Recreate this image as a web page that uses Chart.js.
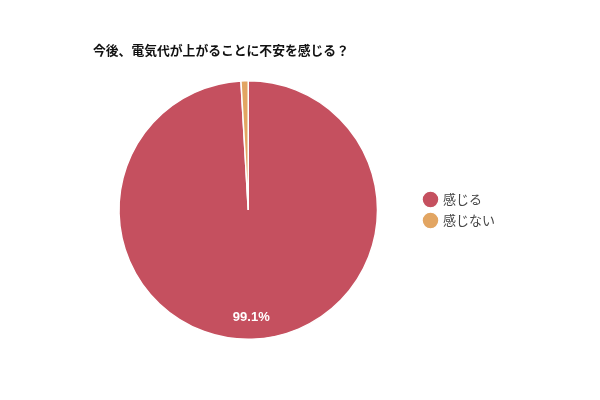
<!DOCTYPE html>
<html>
<head>
<meta charset="utf-8">
<script src="https://cdn.jsdelivr.net/npm/chart.js@4"></script>
<style>
  html, body { margin: 0; padding: 0; background: #fff; }
  #wrap { width: 600px; height: 400px; }
</style>
</head>
<body>
<div id="wrap"><canvas id="myChart"></canvas></div>
<script>
const title = '今後、電気代が上がることに不安を感じる？';
const labels = ['感じる', '感じない'];
const values = [99.1, 0.9];
const colors = ['#c5505f', '#e2a562'];

// title drawn at the top-left, like the original
const titlePlugin = {
  id: 'leftTitle',
  afterDraw(chart) {
    const ctx = chart.ctx;
    ctx.save();
    ctx.font = 'bold 12.8px "Noto Sans CJK JP", sans-serif';
    ctx.fillStyle = '#111';
    ctx.textBaseline = 'middle';
    ctx.textAlign = 'left';
    ctx.fillText(title, 93, 50);
    ctx.restore();
  }
};

// percentage label inside big slices
const pctPlugin = {
  id: 'pctLabels',
  afterDatasetsDraw(chart) {
    const ctx = chart.ctx;
    const meta = chart.getDatasetMeta(0);
    const total = values.reduce((a, b) => a + b, 0);
    ctx.save();
    ctx.font = 'bold 13px "Liberation Sans", Arial, sans-serif';
    ctx.fillStyle = '#fff';
    ctx.textAlign = 'center';
    ctx.textBaseline = 'middle';
    meta.data.forEach((arc, i) => {
      const pct = values[i] / total * 100;
      if (pct < 5) return;
      const p = arc.getProps(['x', 'y', 'startAngle', 'endAngle', 'outerRadius']);
      const mid = (p.startAngle + p.endAngle) / 2;
      const r = p.outerRadius * 0.83;
      ctx.fillText(pct.toFixed(1) + '%', p.x + Math.cos(mid) * r, p.y + Math.sin(mid) * r);
    });
    ctx.restore();
  }
};

new Chart(document.getElementById('myChart'), {
  type: 'pie',
  data: {
    labels: labels,
    datasets: [{
      data: values,
      backgroundColor: colors,
      borderColor: '#fff',
      borderWidth: 1.5
    }]
  },
  options: {
    responsive: true,
    maintainAspectRatio: false,
    animation: false,
    layout: { padding: { top: 80, bottom: 60, left: 80, right: 95 } },
    plugins: {
      legend: {
        position: 'right',
        labels: {
          usePointStyle: true,
          pointStyle: 'circle',
          boxWidth: 12,
          boxHeight: 12,
          padding: 8,
          color: '#444',
          font: { size: 13, family: '"Noto Sans CJK JP", sans-serif' }
        }
      },
      tooltip: { enabled: false },
      title: { display: false }
    }
  },
  plugins: [titlePlugin, pctPlugin]
});
</script>
</body>
</html>
